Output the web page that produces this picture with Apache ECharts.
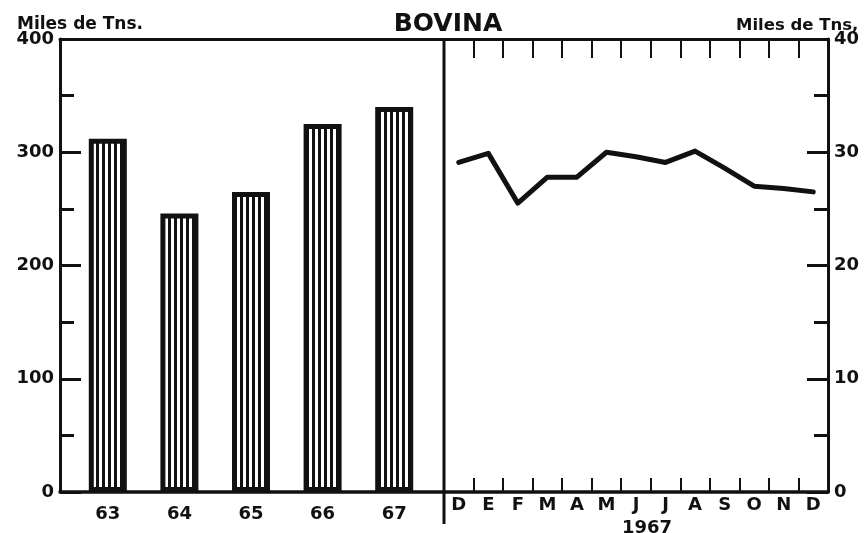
<!DOCTYPE html>
<html>
<head>
<meta charset="utf-8">
<script src="https://cdn.jsdelivr.net/npm/echarts@6/dist/echarts.min.js"></script>
<style>
html,body{margin:0;padding:0;background:#fff;}
#c{width:865px;height:533px;}
</style>
</head>
<body>
<div id="c"></div>
<script>
// ---- data ----
const years = ['63', '64', '65', '66', '67'];
const annualTons = [312, 246, 265, 325, 340];
const months = ['D', 'E', 'F', 'M', 'A', 'M', 'J', 'J', 'A', 'S', 'O', 'N', 'D'];
const monthlyTons = [29.1, 29.9, 25.5, 27.8, 27.8, 30.0, 29.6, 29.1, 30.1, 28.6, 27.0, 26.8, 26.5];
const titleText = 'BOVINA';
const unitLeft = 'Miles de Tns.';
const unitRight = 'Miles de Tns,';
const yearLabel = '1967';

// ---- styling ----
const FONT = 'DejaVu Sans';
const INK = '#111';

const pc = document.createElement('canvas');
pc.width = 6; pc.height = 8;
const px = pc.getContext('2d');
px.fillStyle = '#fff'; px.fillRect(0, 0, 6, 8);
px.fillStyle = INK; px.fillRect(0, 0, 3, 8);

const chart = echarts.init(document.getElementById('c'));
const lab = { color: INK, fontFamily: FONT, fontWeight: 'bold', fontSize: 18 };

const option = {
  backgroundColor: '#fff',
  animation: false,
  title: [
    { text: titleText, left: 443, top: 7, textAlign: 'center',
      textStyle: { color: INK, fontFamily: FONT, fontWeight: 'bold', fontSize: 25 } },
    { text: unitLeft, left: 12, top: 11,
      textStyle: { color: INK, fontFamily: FONT, fontWeight: 'bold', fontSize: 17 } },
    { text: unitRight, left: 731, top: 12,
      textStyle: { color: INK, fontFamily: FONT, fontWeight: 'bold', fontSize: 16.5 } }
  ],
  grid: [
    { left: 72, right: 435, top: 39, bottom: 41, outerBoundsMode: 'none', containLabel: false },   // bars
    { left: 60, right: 421, top: 39, bottom: 41, outerBoundsMode: 'none', containLabel: false },   // left frame
    { left: 444, right: 37, top: 39, bottom: 41, outerBoundsMode: 'none', containLabel: false }    // right panel
  ],
  xAxis: [
    { gridIndex: 0, type: 'category', data: years,
      axisLine: { show: false }, axisTick: { show: false },
      axisLabel: Object.assign({ margin: 13 }, lab) },
    { gridIndex: 1, type: 'value', position: 'bottom', min: 0, max: 1,
      axisLine: { show: true, lineStyle: { color: INK, width: 3.5 } },
      axisTick: { show: false }, axisLabel: { show: false }, splitLine: { show: false } },
    { gridIndex: 1, type: 'value', position: 'top', min: 0, max: 1,
      axisLine: { show: true, lineStyle: { color: INK, width: 3 } },
      axisTick: { show: false }, axisLabel: { show: false }, splitLine: { show: false } },
    { gridIndex: 2, type: 'category', data: months, position: 'bottom', boundaryGap: true,
      axisLine: { show: true, lineStyle: { color: INK, width: 3.5 } },
      axisTick: { show: true, inside: true, length: 14, lineStyle: { color: INK, width: 2 } },
      axisLabel: Object.assign({ margin: 4, interval: 0 }, lab),
      name: yearLabel, nameLocation: 'middle', nameGap: 23,
      nameTextStyle: Object.assign({ padding: [0, 0, 0, 22] }, lab) },
    { gridIndex: 2, type: 'category', data: months, position: 'top', boundaryGap: true,
      axisLine: { show: true, lineStyle: { color: INK, width: 3 } },
      axisTick: { show: true, inside: true, length: 19, lineStyle: { color: INK, width: 2 } },
      axisLabel: { show: false } }
  ],
  yAxis: [
    { gridIndex: 0, type: 'value', min: 0, max: 400, show: false },
    { gridIndex: 1, type: 'value', min: 0, max: 400, interval: 100, position: 'left',
      axisLine: { show: true, lineStyle: { color: INK, width: 3 } },
      axisTick: { show: true, inside: true, length: 21, lineStyle: { color: INK, width: 3 } },
      minorTick: { show: true, splitNumber: 2, length: 14, lineStyle: { color: INK, width: 3 } },
      splitLine: { show: false }, minorSplitLine: { show: false },
      axisLabel: Object.assign({ margin: 6 }, lab) },
    { gridIndex: 2, type: 'value', min: 0, max: 40, interval: 10, position: 'right',
      axisLine: { show: true, lineStyle: { color: INK, width: 3 } },
      axisTick: { show: true, inside: true, length: 21, lineStyle: { color: INK, width: 3 } },
      minorTick: { show: true, splitNumber: 2, length: 14, lineStyle: { color: INK, width: 3 } },
      splitLine: { show: false }, minorSplitLine: { show: false },
      axisLabel: Object.assign({ margin: 6 }, lab) }
  ],
  series: [
    { type: 'bar', xAxisIndex: 0, yAxisIndex: 0, data: annualTons, barWidth: 38,
      itemStyle: { color: { image: pc, repeat: 'repeat' }, borderColor: INK, borderWidth: 5 } },
    { type: 'line', xAxisIndex: 3, yAxisIndex: 2, data: monthlyTons, showSymbol: false, symbol: 'none',
      lineStyle: { color: INK, width: 5, join: 'round', cap: 'round' } }
  ],
  graphic: [
    { type: 'line', shape: { x1: 444, y1: 38, x2: 444, y2: 524 },
      style: { stroke: INK, lineWidth: 3 }, z: 100 }
  ]
};
chart.setOption(option);
</script>
</body>
</html>
